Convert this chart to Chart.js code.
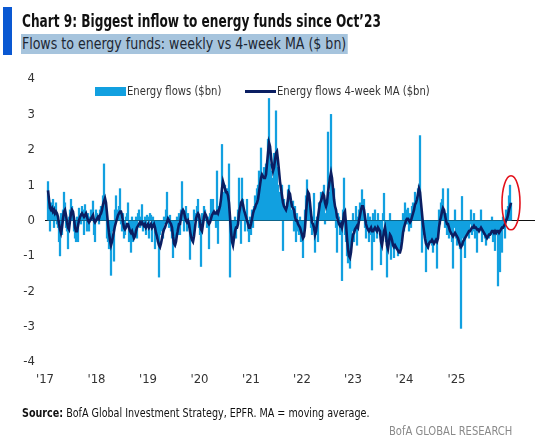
<!DOCTYPE html>
<html>
<head>
<meta charset="utf-8">
<script src="https://cdn.jsdelivr.net/npm/chart.js@4.4.1/dist/chart.umd.min.js"></script>
<style>
  body { margin: 0; background: #fff; }
  #wrap { position: relative; width: 555px; height: 445px; overflow: hidden;
          font-family: 'DejaVu Sans Condensed', 'Liberation Sans', sans-serif; color: #222; }
  #wrap canvas { position: absolute; left: 0; top: 0; }
  .abs { position: absolute; white-space: nowrap; transform-origin: 0 50%; }
  #bar { left: 3px; top: 7px; width: 9px; height: 48px; background: #0a58d2; }
  #title { left: 22px; top: 10px; font-size: 18px; font-weight: bold; color: #111; transform: scaleX(0.75); }
  #subtitle { left: 21px; top: 34px; height: 20px; line-height: 20px; padding: 0 2px 0 1px; font-size: 16px;
              background: #a6c4dd; color: #1d2733; transform: scaleX(0.876); }
  .leg { font-size: 12px; color: #333; top: 84px; line-height: 14px; transform: scaleX(0.93); }
  .swatch { position: absolute; }
  #source { left: 22px; top: 405px; font-size: 13px; color: #111; transform: scaleX(0.82); }
  #brand { right: 43px; top: 423px; font-size: 13px; color: #8a8a8a; transform: scaleX(0.855); transform-origin: 100% 50%; }
</style>
</head>
<body>
<div id="wrap">
  <canvas id="flowsChart"></canvas>
  <div id="bar" class="abs"></div>
  <div id="title" class="abs">Chart 9: Biggest inflow to energy funds since Oct’23</div>
  <div id="subtitle" class="abs">Flows to energy funds: weekly vs 4-week MA ($ bn)</div>
  <div class="swatch" style="left:95px;top:87px;width:31px;height:9px;background:#12a0e0"></div>
  <div class="abs leg" style="left:127px">Energy flows ($bn)</div>
  <div class="swatch" style="left:245px;top:90px;width:31px;height:3px;background:#0b1e62"></div>
  <div class="abs leg" style="left:277px">Energy flows 4-week MA ($bn)</div>
  <div id="source" class="abs"><b>Source:</b> BofA Global Investment Strategy, EPFR. MA = moving average.</div>
  <div id="brand" class="abs">BofA GLOBAL RESEARCH</div>
</div>
<script>
// Year labels and where they sit on the week axis
const yearLabels = ["'17", "'18", "'19", "'20", "'21", "'22", "'23", "'24", "'25"];
const yearTickWeeks = [-3, 48.5, 100, 151.5, 203, 254, 305, 356.5, 408.5];

// Weekly flows to energy funds ($bn)
const weeklyFlows = [
  1.1, 0.3, -0.3, 0.5, 0.2, 0.6, -0.2, 0.4, 0.5, -0.1,
  -0.2, -0.6, -1.0, 0.2, -0.4, 0.3, 0.8, 0.5, -0.2, -0.3,
  -0.8, 0.1, 0.3, 0.6, 0.4, 0.2, -0.3, -0.5, -0.6, 0.1,
  -0.6, 0.35, 0.2, -0.1, 0.4, 0.3, -0.4, 0.45, 0.2, -0.3,
  0.2, -0.3, 0.1, 0.3, 0.1, 0.55, -0.4, -0.6, 0.3, 0.2,
  0.1, -0.1, 0.3, 0.4, 0.2, 0.7, 1.6, 0.5, 0.1, -0.5,
  -0.6, -0.8, -0.4, -1.55, -0.3,
  -0.2, -1.15, 0.3, 0.7, 0.1, 0.3, 0.4, 0.9, -0.1, -0.3,
  0.2, -0.5, -0.4, 0.1, 0.2, 0.5, -0.6, -0.3, -0.9, 0.1,
  -0.6, -0.4, -0.3, 0.1, -0.5, 0.2, 0.3, -0.2, 0.1, 0.45,
  -0.3, -0.2, 0.1, -0.4, 0.15, 0.1, -0.5, 0.2, 0.15, -0.6,
  0.1, -0.2, -0.8, -0.3, -0.5, -0.6, -1.6, -0.4, -0.3, -0.2,
  -0.5, 0.1, -0.1, 0.3, 0.8, 0.1, -0.2, 0.15, -0.3, -0.5,
  -1.05, -0.6, -0.7, -0.3, 0.1, -0.4, 0.2,
  -0.4, 0.3, 1.1, 0.2, -0.3, 0.1, 0.4, -0.3, 0.2, -0.2,
  -1.1, -0.3, -0.5, -0.4, 0.3, 0.1, 0.2, 0.4, 0.6, -0.2,
  -0.4, -1.3, 0.2, 0.1, 0.4, 0.3, 0.1, -0.2, 0.1, -0.8,
  0.2, 0.6, 0.3, 0.6, 0.1, 0.2, -0.2, 1.4, -0.65, 0.4,
  0.4, 0.5, 2.15, 0.8, 0.7, 1.0, 0.6, 0.9, 0.3, 1.6,
  -1.6, -0.6, -0.5, -0.3, -0.4, 0.1, -0.5, -0.2, 0.3, 1.2,
  0.3, -0.65, 1.2, 0.6, 0.2, -0.3, 0.1,
  0.6, -0.3, -0.6, 0.1, -0.4, 0.3, -0.2, 0.4, 0.7, 0.3,
  0.9, 1.0, 1.4, 0.6, 2.05, 1.2, 1.0, 1.5, 0.8, 1.6,
  1.5, 2.3, 3.45, 1.6, 1.4, 0.9, 1.2, 1.9, 1.4, 3.1,
  1.5, 1.0, 0.6, 0.8, 0.4, 1.0, -0.85, 0.6, 0.4, 0.2,
  0.5, 0.87, 1.0, 0.6, 0.3, 0.2, 0.55, -0.3, 0.4, -0.6,
  0.2, -0.3, -0.4, 0.1, -0.6, -0.5, -1.05, -0.3, 0.3, 0.7,
  1.15, 0.8, 0.5, 0.3, -0.2, -0.4, 0.1,
  0.77, -0.9, -0.4, 0.1, -0.6, 0.5, 0.3, 0.8, 0.4, 0.6,
  1.0, -0.1, 0.2, 0.5, 2.5, 0.4, 0.8, 3.0, 0.9, 0.5,
  0.9, 0.3, -0.2, -0.9, 0.2, 0.1, -0.4, -0.3, -1.7, 0.3,
  1.2, -0.4, -0.6, -1.0, -1.2, -0.8, -1.35, -0.6, -0.3, 0.2,
  -0.6, -0.2, 0.4, -0.7, 0.1, 0.3, 0.5, 0.2, 0.87, 0.3,
  0.6, -0.2, -0.5, -0.3, 0.2, -0.6, 0.1, -0.4, -1.4, 0.2,
  -0.6, 0.3, -0.3, -0.5, 0.2, -0.3, -0.4,
  -1.25, -0.5, 0.2, 0.77, -0.3, -0.6, -1.6, -0.7, -0.3, 0.2,
  -1.1, -0.4, -0.6, -1.05, -0.5, -0.8, -0.7, -1.0, -0.9, -0.6,
  -0.8, -0.3, 0.2, -0.3, 0.5, 0.3, -0.1, 0.35, -0.3, 0.2,
  -0.2, 0.4, 0.5, 0.3, 0.8, 0.6, 0.2, 0.9, 1.0, 2.4,
  0.3, -0.9, -0.4, -0.2, -0.5, -1.45, -0.6, -0.8, -0.5, -0.6,
  -0.4, -0.7, -0.9, -0.5, -0.6, -0.5, -1.35, -0.2, 0.3, -0.1,
  0.5, 0.6, 0.9, 0.3, -0.2, 0.2, -0.4,
  0.9, -0.5, -0.4, -0.3, -0.6, -1.35, -0.2, 0.3, -0.5, -0.7,
  -0.6, -0.4, -0.8, -3.05, 0.68, -0.5, -0.7, -1.05, -0.3, -0.4,
  -0.3, -0.5, -0.1, 0.3, -0.4, -0.3, 0.2, -0.5, -0.2, -0.9,
  -0.3, -0.2, -0.2, 0.3, -0.6, -0.4, -0.3, -0.5, -0.7, -0.4,
  -0.3, -0.5, -0.4, -0.4, 0.1, -0.6, -0.3, -0.85, -0.4, -0.4,
  -1.85, -0.6, -1.45, -0.3, -0.9, 0.1, -0.2, -0.5, 0.3, 0.2,
  0.4, 0.7, 1.0, 0.5
];

// 4-week moving average ($bn)
const flowsMA = [
  0.85, 0.6, 0.35, 0.3, 0.35, 0.25, 0.3, 0.2, 0.25, 0.2,
  0.1, -0.1, -0.25, -0.35, -0.2, 0.05, 0.25, 0.3, 0.15, -0.05,
  -0.2, -0.25, 0.0, 0.2, 0.3, 0.25, 0.05, -0.2, -0.3, -0.3,
  -0.15, 0.0, 0.1, 0.15, 0.2, 0.15, 0.1, 0.15, 0.2, 0.1,
  0.0, -0.05, 0.0, 0.05, 0.1, 0.15, 0.0, -0.05, 0.0, 0.05,
  0.1, 0.05, 0.15, 0.2, 0.3, 0.45, 0.55, 0.63, 0.5, 0.2,
  -0.1, -0.35, -0.55, -0.7, -0.6,
  -0.45, -0.3, -0.15, -0.05, 0.05, 0.15, 0.2, 0.25, 0.25, 0.15,
  -0.05, -0.2, -0.25, -0.2, -0.1, -0.1, -0.2, -0.3, -0.35, -0.3,
  -0.4, -0.5, -0.45, -0.3, -0.2, -0.15, -0.1, -0.05, -0.1, -0.05,
  -0.1, -0.15, -0.1, -0.2, -0.15, -0.1, -0.2, -0.15, -0.1, -0.2,
  -0.15, -0.1, -0.2, -0.35, -0.45, -0.6, -0.7, -0.75, -0.65, -0.5,
  -0.35, -0.25, -0.2, -0.1, -0.05, 0.05, 0.0, -0.05, -0.1, -0.2,
  -0.45, -0.65, -0.7, -0.6, -0.4, -0.25, -0.1,
  -0.1, 0.1, 0.25, 0.3, 0.25, 0.1, 0.0, -0.05, 0.0, -0.1,
  -0.3, -0.45, -0.55, -0.6, -0.45, -0.2, 0.05, 0.15, 0.2, 0.15,
  -0.05, -0.25, -0.3, -0.1, 0.1, 0.2, 0.15, 0.05, -0.05, -0.1,
  -0.05, 0.05, 0.15, 0.2, 0.25, 0.2, 0.2, 0.25, 0.2, 0.3,
  0.4, 0.6, 0.9, 1.1, 1.0, 0.9, 0.8, 0.8, 0.7, 0.5,
  0.1, -0.3, -0.6, -0.7, -0.5, -0.3, -0.2, -0.2, -0.1, 0.2,
  0.35, 0.5, 0.55, 0.45, 0.3, 0.2, 0.1,
  0.0, -0.1, -0.2, -0.2, -0.1, 0.05, 0.2, 0.3, 0.35, 0.45,
  0.5, 0.6, 0.8, 1.0, 1.2, 1.3, 1.25, 1.2, 1.2, 1.3,
  1.6, 1.9, 2.2, 2.1, 1.8, 1.55, 1.4, 1.5, 1.7, 1.9,
  1.95, 1.7, 1.4, 1.1, 0.9, 0.7, 0.5, 0.4, 0.35, 0.3,
  0.4, 0.6, 0.8, 0.75, 0.55, 0.4, 0.35, 0.3, 0.1, 0.0,
  0.0, -0.1, -0.15, -0.2, -0.3, -0.4, -0.5, -0.45, -0.2, 0.2,
  0.55, 0.8, 0.75, 0.5, 0.2, -0.05, -0.1,
  -0.2, -0.4, -0.3, -0.1, 0.1, 0.3, 0.5, 0.55, 0.65, 0.75,
  0.7, 0.5, 0.4, 0.5, 0.8, 1.0, 1.2, 1.35, 1.2, 0.9,
  0.6, 0.4, 0.3, 0.1, 0.0, -0.1, -0.15, -0.1, -0.2, -0.05,
  0.2, 0.25, -0.1, -0.5, -0.8, -1.0, -1.05, -0.9, -0.6, -0.4,
  -0.35, -0.25, -0.2, -0.15, -0.2, 0.0, 0.15, 0.3, 0.4, 0.4,
  0.3, 0.1, -0.1, -0.2, -0.25, -0.3, -0.25, -0.2, -0.3, -0.3,
  -0.25, -0.2, -0.25, -0.3, -0.2, -0.25, -0.3,
  -0.6, -0.7, -0.5, -0.3, -0.2, -0.4, -0.7, -0.8, -0.6, -0.4,
  -0.45, -0.55, -0.7, -0.75, -0.7, -0.75, -0.8, -0.85, -0.9, -0.9,
  -0.8, -0.6, -0.35, -0.2, -0.1, 0.0, 0.05, 0.05, 0.0, -0.05,
  0.0, 0.1, 0.2, 0.3, 0.45, 0.5, 0.6, 0.75, 0.9, 0.8,
  0.5, 0.2, -0.1, -0.3, -0.5, -0.65, -0.7, -0.75, -0.65, -0.6,
  -0.6, -0.55, -0.6, -0.65, -0.6, -0.55, -0.6, -0.5, -0.2, 0.0,
  0.1, 0.25, 0.35, 0.3, 0.15, 0.0, -0.1,
  -0.1, -0.2, -0.3, -0.35, -0.4, -0.45, -0.4, -0.35, -0.4, -0.45,
  -0.5, -0.6, -0.7, -0.75, -0.7, -0.6, -0.55, -0.5, -0.45, -0.4,
  -0.35, -0.3, -0.3, -0.25, -0.2, -0.2, -0.15, -0.2, -0.2, -0.25,
  -0.25, -0.3, -0.25, -0.2, -0.25, -0.3, -0.35, -0.4, -0.45, -0.5,
  -0.45, -0.4, -0.4, -0.35, -0.3, -0.3, -0.35, -0.3, -0.35, -0.3,
  -0.3, -0.35, -0.3, -0.25, -0.2, -0.2, -0.15, -0.1, 0.0, 0.05,
  0.15, 0.3, 0.4, 0.5
];

const colors = { flows: '#12a0e0', ma: '#0b1e62', circle: '#e3101a' };

// Red ring round the latest readings
const circlePlugin = {
  id: 'latestCircle',
  afterDatasetsDraw(chart) {
    const { ctx, scales: { x, y } } = chart;
    const last = weeklyFlows.length - 1;
    const cx = x.getPixelForValue(last);
    const cy = y.getPixelForValue(0.5);
    ctx.save();
    ctx.strokeStyle = colors.circle;
    ctx.lineWidth = 1.6;
    ctx.beginPath();
    ctx.ellipse(cx, cy, 9, 27, 0, 0, Math.PI * 2);
    ctx.stroke();
    ctx.restore();
  }
};

const tickFont = { family: "'DejaVu Sans Condensed', sans-serif", size: 13 };

new Chart(document.getElementById('flowsChart'), {
  data: {
    datasets: [
      {
        type: 'line',
        label: 'Energy flows 4-week MA ($bn)',
        data: flowsMA.map((v, i) => ({ x: i, y: v })),
        borderColor: colors.ma,
        borderWidth: 2.6,
        pointRadius: 0,
        tension: 0,
        order: 0
      },
      {
        type: 'bar',
        label: 'Energy flows ($bn)',
        data: weeklyFlows.map((v, i) => ({ x: i, y: v })),
        backgroundColor: colors.flows,
        barThickness: 1.6,
        order: 1
      }
    ]
  },
  options: {
    responsive: true,
    maintainAspectRatio: false,
    animation: false,
    layout: { padding: { left: 0, top: 79, right: 20, bottom: 53 } },
    plugins: { legend: { display: false }, tooltip: { enabled: false } },
    scales: {
      x: {
        type: 'linear',
        min: -3,
        max: 487,
        offset: false,
        grid: { display: false },
        border: { display: false },
        afterBuildTicks: s => { s.ticks = yearTickWeeks.map(v => ({ value: v })); },
        afterFit: s => { s.height = 30; },
        ticks: {
          autoSkip: false,
          maxRotation: 0,
          padding: 2,
          color: '#333',
          font: tickFont,
          callback: (v, i) => yearLabels[i]
        }
      },
      y: {
        min: -4,
        max: 4,
        border: { display: false },
        grid: {
          drawTicks: false,
          lineWidth: 1,
          color: c => c.tick.value === 0 ? '#111' : 'rgba(0,0,0,0)'
        },
        afterFit: s => { s.width = 45; },
        ticks: { stepSize: 1, padding: 10, color: '#333', font: tickFont }
      }
    }
  },
  plugins: [circlePlugin]
});
</script>
</body>
</html>
